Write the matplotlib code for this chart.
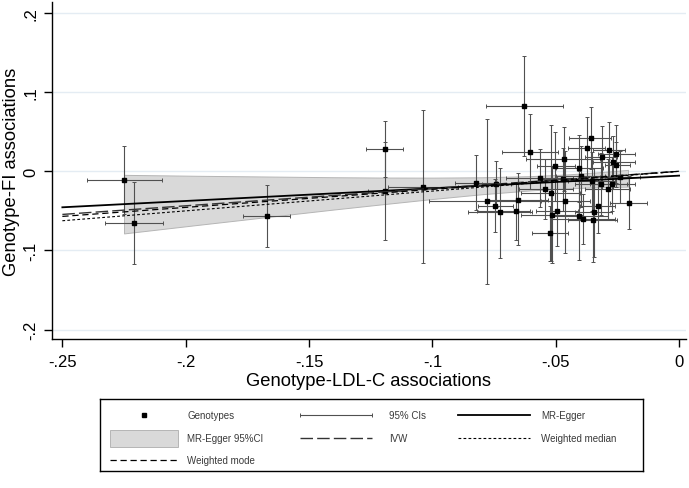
import matplotlib
matplotlib.use("Agg")
import matplotlib.pyplot as plt
import numpy as np
from matplotlib.patches import Rectangle

plt.rcParams['font.family'] = ['Liberation Sans', 'DejaVu Sans']

# ---------------- data ----------------
# Genotype-LDL-C associations (x), Genotype-FI associations (y) and 95% CIs
bx = [-0.2208, -0.2250, -0.1671, -0.1192, -0.1192, -0.1038, -0.0823, -0.0778,
      -0.0746, -0.0726, -0.0742, -0.0655, -0.0661, -0.0627, -0.0603, -0.0524,
      -0.0520, -0.0514, -0.0495, -0.0503, -0.0465, -0.0461, -0.0405, -0.0405,
      -0.0388, -0.0374, -0.0358, -0.0351, -0.0345, -0.0330, -0.0313, -0.0284,
      -0.0257, -0.0266, -0.0255, -0.0204, -0.0289, -0.0317, -0.0397, -0.0469,
      -0.0355, -0.0239, -0.0563, -0.0272, -0.0543]
by = [-0.0657, -0.0110, -0.0565, 0.0282, -0.0249, -0.0198, -0.0148, -0.0379,
      -0.0435, -0.0518, -0.0160, -0.0363, -0.0505, 0.0829, 0.0240, -0.0780,
      -0.0278, -0.0548, -0.0505, 0.0063, 0.0155, -0.0379, 0.0038, -0.0561,
      -0.0606, 0.0294, 0.0421, -0.0615, -0.0518, -0.0442, 0.0177, 0.0269,
      0.0219, 0.0114, 0.0083, -0.0400, -0.0224, -0.0160, -0.0063, -0.0097,
      -0.0123, -0.0072, -0.0085, -0.0160, -0.0224]
bx_lo = [-0.2327, -0.2401, -0.1767, -0.1269, -0.1260, -0.1180, -0.0908, -0.1013,
         -0.0816, -0.0855, -0.0800, -0.0780, -0.0820, -0.0784, -0.0717, -0.0597,
         -0.0640, -0.0640, -0.0580, -0.0577, -0.0620, -0.0560, -0.0500, -0.0520,
         -0.0520, -0.0450, -0.0445, -0.0450, -0.0420, -0.0400, -0.0380, -0.0350,
         -0.0330, -0.0350, -0.0300, -0.0280, -0.0380, -0.0420, -0.0500, -0.0560,
         -0.0450, -0.0320, -0.0700, -0.0360, -0.0650]
bx_hi = [-0.2092, -0.2098, -0.1577, -0.1119, -0.1125, -0.0895, -0.0739, -0.0543,
         -0.0672, -0.0597, -0.0680, -0.0530, -0.0604, -0.0471, -0.0490, -0.0449,
         -0.0400, -0.0390, -0.0410, -0.0422, -0.0320, -0.0360, -0.0310, -0.0290,
         -0.0260, -0.0300, -0.0276, -0.0250, -0.0270, -0.0260, -0.0250, -0.0220,
         -0.0180, -0.0180, -0.0200, -0.0131, -0.0200, -0.0210, -0.0300, -0.0380,
         -0.0260, -0.0160, -0.0430, -0.0180, -0.0430]
by_lo = [-0.1175, -0.0540, -0.0960, -0.0076, -0.0868, -0.1160, -0.0490, -0.1420,
         -0.0767, -0.1090, -0.0450, -0.0927, -0.0870, 0.0197, -0.0224, -0.1130,
         -0.1130, -0.1160, -0.0940, -0.0370, -0.0250, -0.1030, -0.0390, -0.1120,
         -0.0920, -0.0100, 0.0030, -0.1150, -0.1080, -0.0780, -0.0220, -0.0080,
         -0.0150, -0.0220, -0.0200, -0.0729, -0.0600, -0.0550, -0.0450, -0.0500,
         -0.0500, -0.0400, -0.0450, -0.0500, -0.0600]
by_hi = [-0.0139, 0.0320, -0.0169, 0.0631, 0.0366, 0.0773, 0.0210, 0.0660,
         -0.0097, 0.0038, 0.0130, -0.0025, -0.0140, 0.1460, 0.0724, -0.0435,
         0.0580, 0.0070, -0.0060, 0.0500, 0.0560, 0.0260, 0.0460, 0.0000,
         -0.0290, 0.0690, 0.0810, -0.0080, 0.0040, -0.0100, 0.0570, 0.0620,
         0.0590, 0.0450, 0.0370, -0.0055, 0.0150, 0.0230, 0.0320, 0.0300,
         0.0250, 0.0260, 0.0280, 0.0180, 0.0150]

# MR-Egger 95% CI band
band_x = [-0.225, -0.195, -0.167, -0.140, -0.121, -0.100, -0.080, -0.060, -0.045, -0.030, -0.0207]
band_hi = [-0.0045, -0.0057, -0.0066, -0.0075, -0.0079, -0.0080, -0.0076, -0.0061, -0.0039, -0.0007, 0.0018]
band_lo = [-0.0785, -0.0677, -0.0578, -0.0483, -0.0419, -0.0350, -0.0290, -0.0241, -0.0215, -0.0199, -0.0194]

# fitted lines (x range and estimates)
line_x = [-0.25, 0.0]
egger_y = [-0.0455, -0.0055]
ivw_y = [-0.0545, 0.0]
wmedian_y = [-0.0625, 0.0]
wmode_y = [-0.0570, 0.0]

xticks = [-0.25, -0.2, -0.15, -0.1, -0.05, 0]
xtick_labels = ['-.25', '-.2', '-.15', '-.1', '-.05', '0']
yticks = [0.2, 0.1, 0, -0.1, -0.2]
ytick_labels = ['.2', '.1', '0', '-.1', '-.2']

legend_labels = ['Genotypes', '95% CIs', 'MR-Egger', 'MR-Egger 95%CI', 'IVW',
                 'Weighted median', 'Weighted mode']

# ---------------- figure ----------------
W, H = 689, 489
fig = plt.figure(figsize=(W / 100, H / 100), dpi=100)
fig.patch.set_facecolor('white')

L, R, T, B = 52, 686, 3, 340
ax = fig.add_axes([L / W, 1 - B / H, (R - L) / W, (B - T) / H])
ax.set_xlim(-0.2542, 0.0028)
ax.set_ylim(-0.2119, 0.2139)

ax.yaxis.grid(True, color='#e4ecf3', lw=1.0)
ax.xaxis.grid(False)
ax.set_axisbelow(True)

ax.fill_between(band_x, band_lo, band_hi, facecolor='#d9d9d9', edgecolor='#b5b5b5',
                lw=0.7, zorder=1)

x = np.array(bx); y = np.array(by)
ax.errorbar(x, y, xerr=[x - np.array(bx_lo), np.array(bx_hi) - x],
            yerr=[y - np.array(by_lo), np.array(by_hi) - y],
            fmt='none', ecolor='#505050', elinewidth=0.8, capsize=1.6, capthick=0.7,
            zorder=2)
ax.plot(x, y, 's', color='black', ms=3.2, zorder=3)

ax.plot(line_x, egger_y, '-', color='black', lw=1.3, zorder=4)
ax.plot(line_x, ivw_y, color='#333333', lw=1.0, dashes=(9, 3), zorder=4)
ax.plot(line_x, wmedian_y, color='black', lw=0.8, dashes=(2.5, 2), zorder=4)
ax.plot(line_x, wmode_y, color='black', lw=0.9, dashes=(5, 3), zorder=4)

for s in ['top', 'right']:
    ax.spines[s].set_visible(False)
for s in ['left', 'bottom']:
    ax.spines[s].set_color('black')
    ax.spines[s].set_linewidth(1.0)

ax.set_xticks(xticks)
ax.set_xticklabels(xtick_labels)
ax.set_yticks(yticks)
ax.set_yticklabels(ytick_labels, rotation=90, va='center')
ax.tick_params(axis='both', direction='out', length=6, width=1, labelsize=12,
               colors='black')
ax.tick_params(axis='x', pad=5)
ax.tick_params(axis='y', pad=4)

ax.set_xlabel('Genotype-LDL-C associations', fontsize=13.2)
ax.set_ylabel('Genotype-FI associations', fontsize=13.2)
ax.xaxis.set_label_coords((369 - L) / (R - L), -(373 - B) / (B - T))
ax.yaxis.set_label_coords(-(L - 20) / (R - L), 0.5)

# ---------------- legend (manual, in pixel coordinates) ----------------
lx0, lx1, ly0, ly1 = 100, 643, 400, 472
lax = fig.add_axes([lx0 / W, 1 - ly1 / H, (lx1 - lx0) / W, (ly1 - ly0) / H])
lax.set_xlim(lx0, lx1)
lax.set_ylim(ly1, ly0)
lax.set_xticks([]); lax.set_yticks([])
for s in lax.spines.values():
    s.set_color('black'); s.set_linewidth(1.0)

rows = [416, 439, 461]
c1, c2, c3 = (110, 178), (300, 372), (458, 530)
t1, t2, t3 = 187, 389, 541
tc = '#3a3a3a'; fs = 7

lax.plot([(c1[0] + c1[1]) / 2], [rows[0]], 's', color='black', ms=3.2)
lax.text(t1, rows[0], legend_labels[0], va='center', ha='left', fontsize=fs, color=tc)
lax.errorbar([(c2[0] + c2[1]) / 2], [rows[0]], xerr=[(c2[1] - c2[0]) / 2], fmt='none',
             ecolor='#505050', elinewidth=0.8, capsize=1.6, capthick=0.7)
lax.text(t2, rows[0], legend_labels[1], va='center', ha='left', fontsize=fs, color=tc)
lax.plot(c3, [rows[0]] * 2, '-', color='black', lw=1.3)
lax.text(t3, rows[0], legend_labels[2], va='center', ha='left', fontsize=fs, color=tc)

lax.add_patch(Rectangle((c1[0], rows[1] - 8.5), c1[1] - c1[0], 17, facecolor='#d9d9d9',
                        edgecolor='#b5b5b5', lw=0.7))
lax.text(t1, rows[1], legend_labels[3], va='center', ha='left', fontsize=fs, color=tc)
lax.plot(c2, [rows[1]] * 2, color='#333333', lw=1.0, dashes=(9, 3))
lax.text(t2, rows[1], legend_labels[4], va='center', ha='left', fontsize=fs, color=tc)
lax.plot(c3, [rows[1]] * 2, color='black', lw=0.8, dashes=(2.5, 2))
lax.text(t3, rows[1], legend_labels[5], va='center', ha='left', fontsize=fs, color=tc)

lax.plot(c1, [rows[2]] * 2, color='black', lw=0.9, dashes=(5, 3))
lax.text(t1, rows[2], legend_labels[6], va='center', ha='left', fontsize=fs, color=tc)

fig.savefig('out.png', dpi=100)
